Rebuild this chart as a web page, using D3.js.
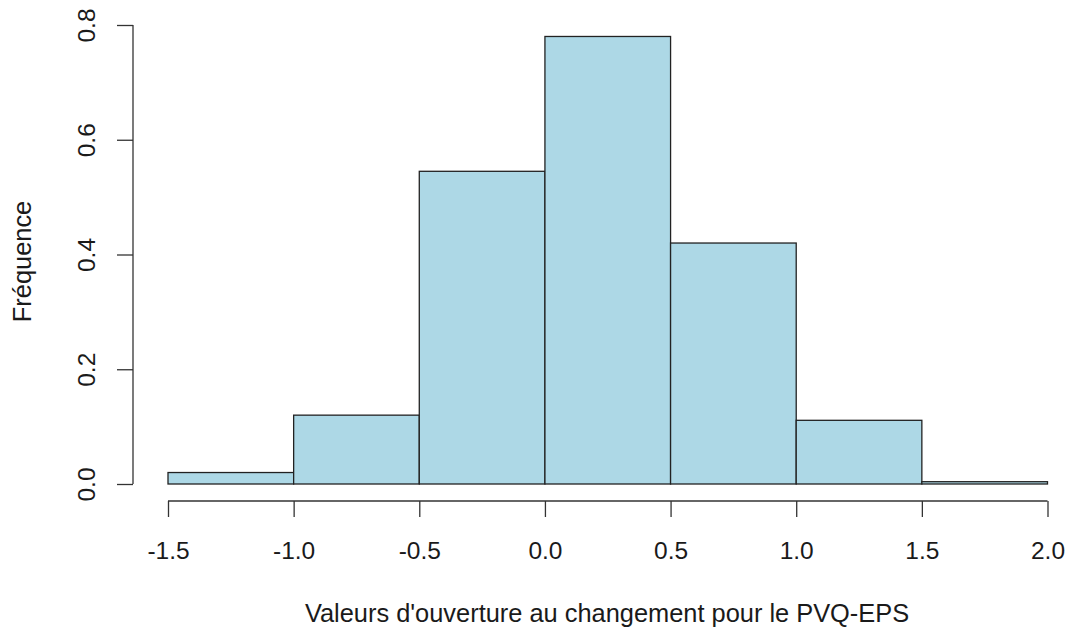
<!DOCTYPE html>
<html>
<head>
<meta charset="utf-8">
<script src="https://cdn.jsdelivr.net/npm/d3@7"></script>
<style>
  html, body { margin: 0; padding: 0; background: #fff; }
  svg { display: block; }
  text { font-family: "Liberation Sans", Arial, Helvetica, sans-serif; fill: #1a1a1a; }
</style>
</head>
<body>
<script>
// Data
const binStarts = [-1.5, -1.0, -0.5, 0.0, 0.5, 1.0, 1.5];
const binEnds   = [-1.0, -0.5, 0.0, 0.5, 1.0, 1.5, 2.0];
const densities = [0.02, 0.12, 0.545, 0.78, 0.42, 0.111, 0.004];
const xTicks = [-1.5, -1.0, -0.5, 0.0, 0.5, 1.0, 1.5, 2.0];
const yTicks = [0.0, 0.2, 0.4, 0.6, 0.8];
const xTitle = "Valeurs d'ouverture au changement pour le PVQ-EPS";
const yTitle = "Fréquence";

const W = 1071, H = 629;
const svg = d3.select("body").append("svg").attr("width", W).attr("height", H);

const x = d3.scaleLinear().domain([-1.5, 2.0]).range([168, 1047.5]);
const y = d3.scaleLinear().domain([0, 0.8]).range([484, 25]);

const fmt = d => d.toFixed(1); // plain hyphen-minus like R

const bins = binStarts.map((s, i) => ({ x0: s, x1: binEnds[i], v: densities[i] }));

svg.append("g").selectAll("rect").data(bins).join("rect")
  .attr("x", d => x(d.x0))
  .attr("y", d => y(d.v))
  .attr("width", d => x(d.x1) - x(d.x0))
  .attr("height", d => y(0) - y(d.v))
  .attr("fill", "#ADD8E6")
  .attr("stroke", "#222")
  .attr("stroke-width", 1.3);

// X axis
const xAxis = d3.axisBottom(x).tickValues(xTicks).tickFormat(fmt).tickSize(16).tickPadding(8);
const gx = svg.append("g").attr("transform", "translate(0,501)").call(xAxis);
gx.select(".domain").attr("stroke", "#333").attr("stroke-width", 1.3).attr("d", `M${x(-1.5)},0H${x(2.0)}`);
gx.selectAll(".tick line").attr("stroke", "#333").attr("stroke-width", 1.3);
gx.selectAll(".tick text").attr("font-size", 24.5).attr("font-family", "Liberation Sans, Arial, sans-serif")
  .attr("fill", "#1a1a1a").attr("dy", null).attr("y", 58);

// Y axis
const yAxis = d3.axisLeft(y).tickValues(yTicks).tickFormat(fmt).tickSize(16);
const gy = svg.append("g").attr("transform", "translate(133,0)").call(yAxis);
gy.select(".domain").attr("stroke", "#333").attr("stroke-width", 1.3).attr("d", `M0,${y(0)}V${y(0.8)}`);
gy.selectAll(".tick line").attr("stroke", "#333").attr("stroke-width", 1.3);
gy.selectAll(".tick text")
  .attr("font-size", 24.5).attr("font-family", "Liberation Sans, Arial, sans-serif").attr("fill", "#1a1a1a")
  .attr("x", null).attr("dy", null)
  .attr("text-anchor", "middle")
  .attr("transform", "translate(-38,0) rotate(-90)");

// Titles
svg.append("text")
  .attr("x", 607)
  .attr("y", 621.5)
  .attr("text-anchor", "middle")
  .attr("font-size", 25.4)
  .text(xTitle);

svg.append("text")
  .attr("transform", `translate(31,261.5) rotate(-90)`)
  .attr("text-anchor", "middle")
  .attr("font-size", 25.4)
  .text(yTitle);
</script>
</body>
</html>
